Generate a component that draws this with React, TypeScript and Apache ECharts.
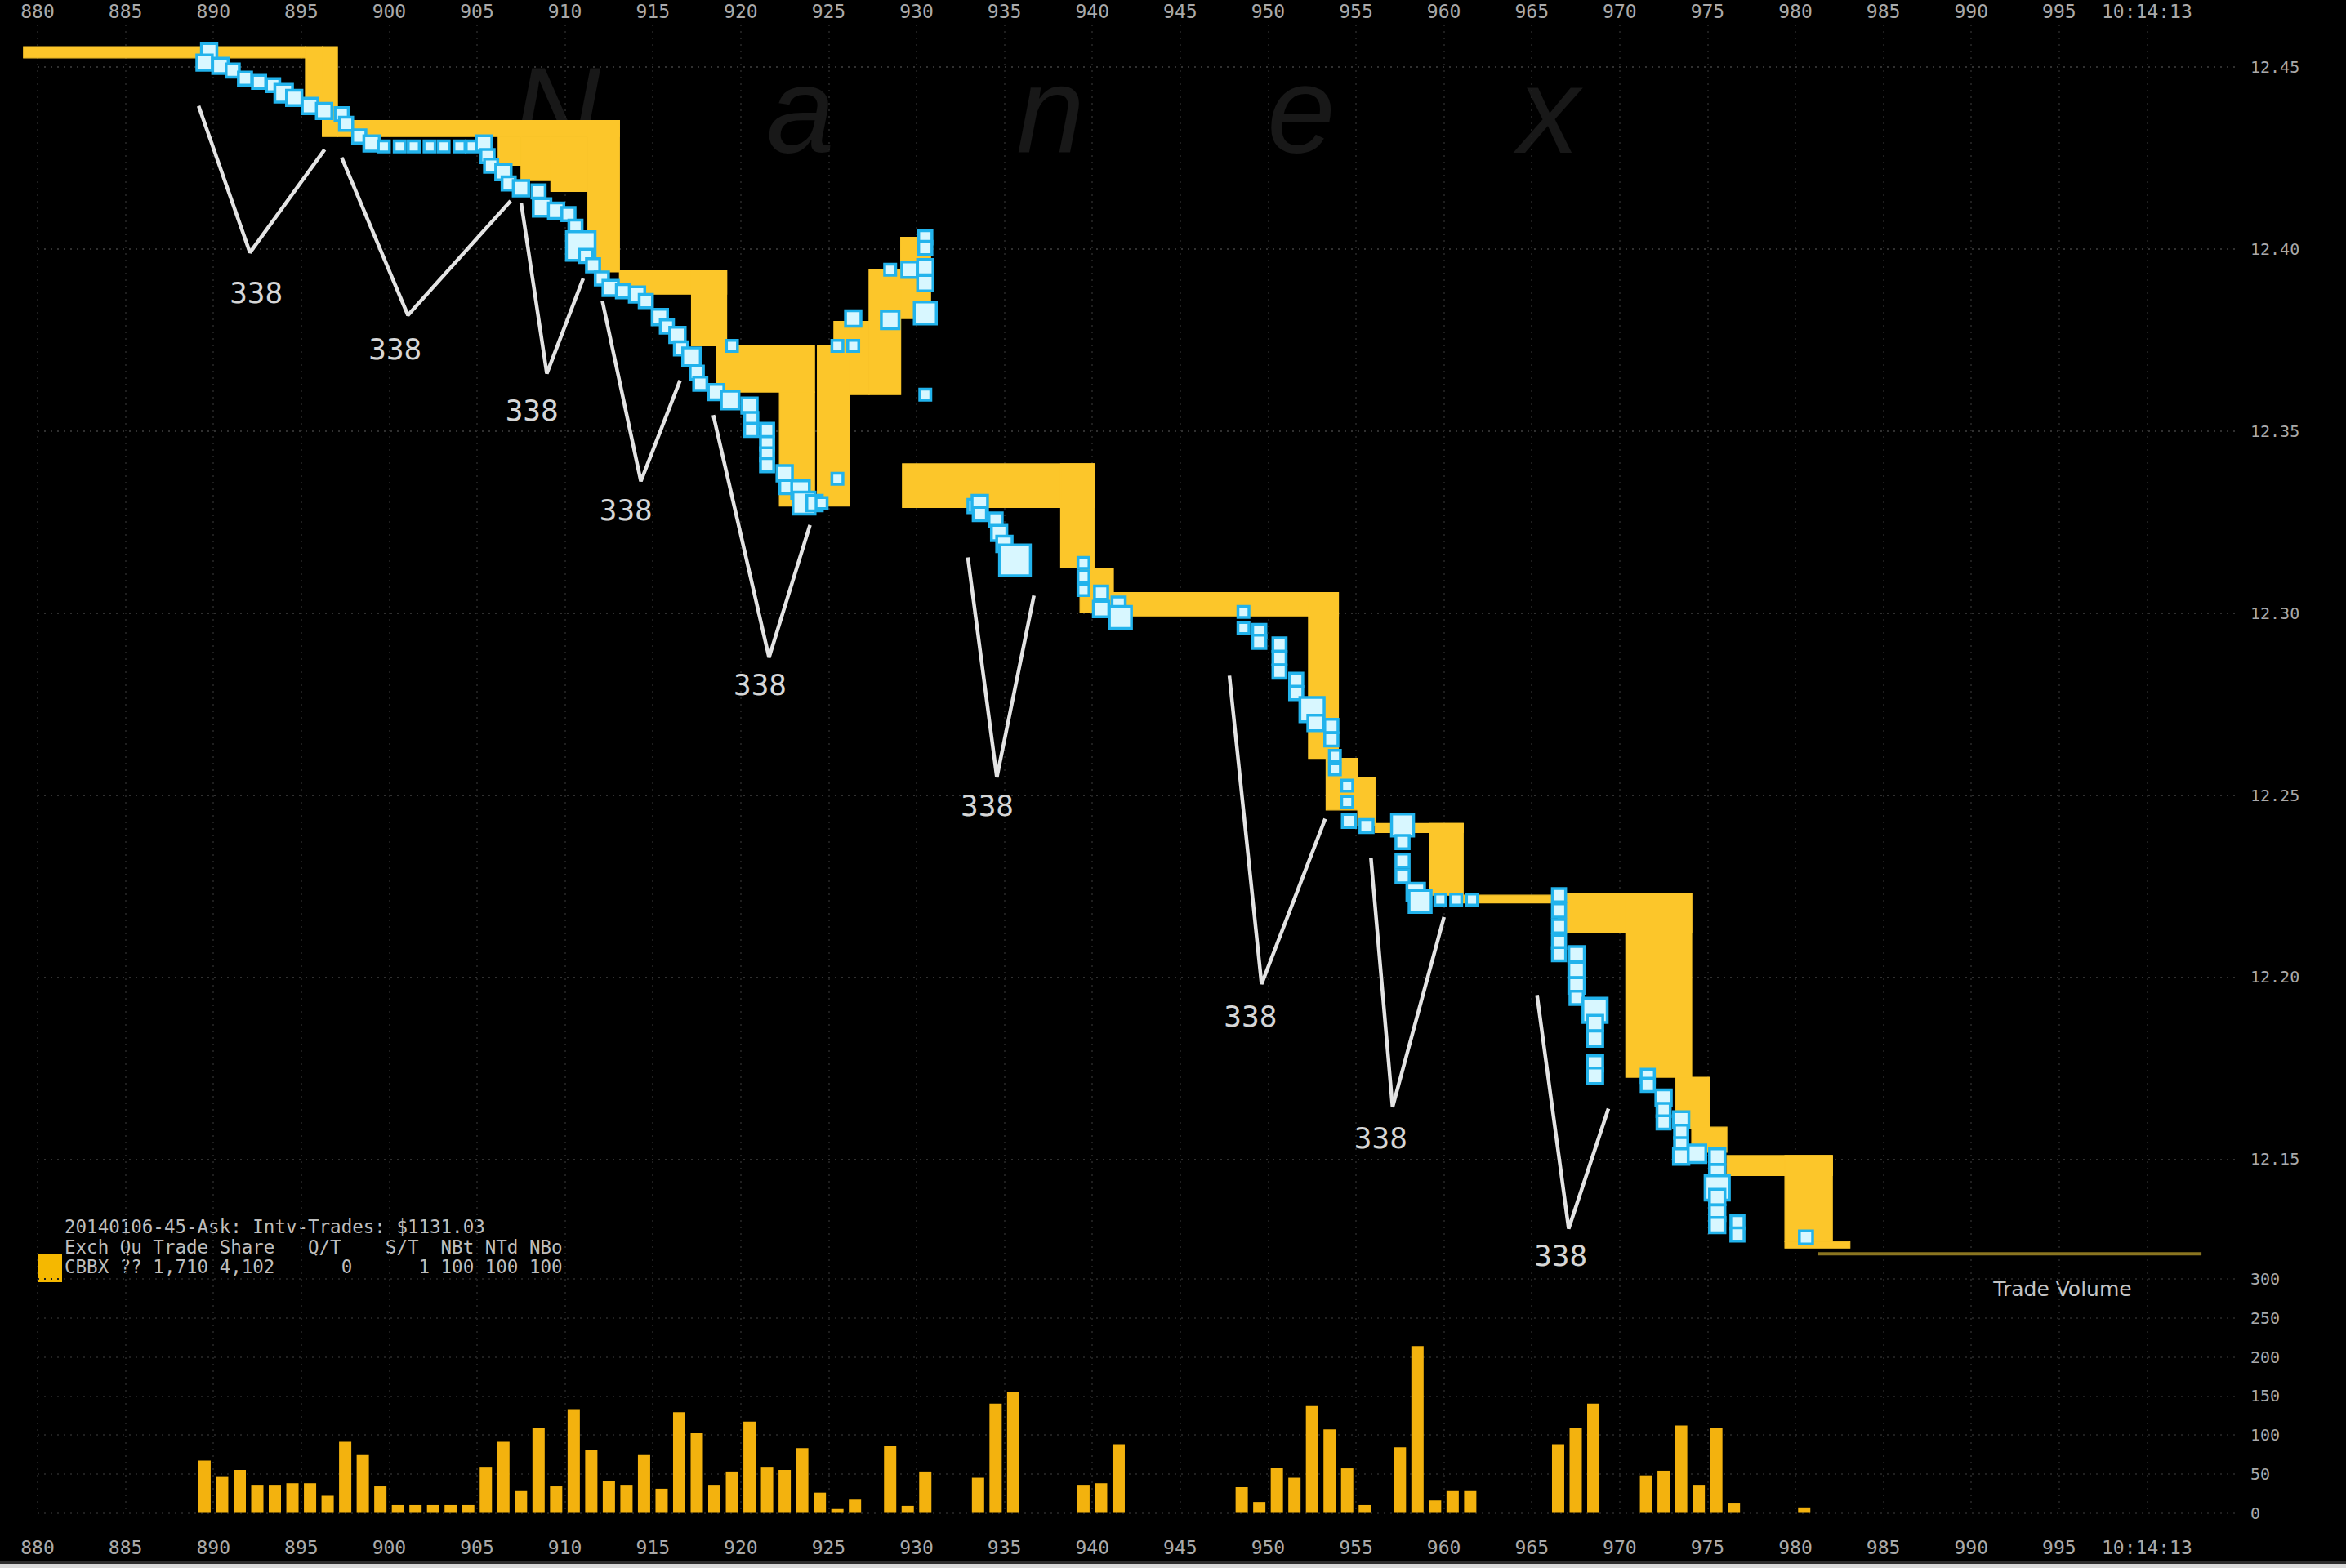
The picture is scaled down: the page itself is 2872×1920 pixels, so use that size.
import React, { useEffect, useRef } from 'react';
import * as echarts from 'echarts';

// ---- axis extents (time in seconds-of-minute units, price in $) ----
const TIME_MIN = 880;
const TIME_MAX = 1005;
const PRICE_MIN = 12.1;
const PRICE_MAX = 12.46166;
const VOL_MAX = 300;

// ---- spread band (yellow) : [tStart, tEnd, low, high] ----
const bandRects: number[][] = [
  [879.2, 895.24, 12.4525, 12.4556],
  [895.24, 896.2, 12.437, 12.4556],
  [896.2, 897.06, 12.4309, 12.4556],
  [897.06, 913.1, 12.4309, 12.4353],
  [906.2, 907.5, 12.423, 12.4309],
  [907.5, 909.2, 12.4188, 12.4309],
  [909.2, 911.28, 12.4158, 12.4309],
  [911.28, 913.1, 12.3937, 12.4353],
  [913.1, 919.2, 12.3876, 12.394],
  [917.2, 919.2, 12.3734, 12.394],
  [918.6, 924.2, 12.3607, 12.3734],
  [922.2, 924.2, 12.3294, 12.3607],
  [924.36, 926.2, 12.3294, 12.3734],
  [925.3, 926.2, 12.3734, 12.3801],
  [926.2, 927.3, 12.36, 12.3801],
  [927.3, 929.1, 12.36, 12.3943],
  [929.1, 930.8, 12.3809, 12.4032],
  [929.2, 940.1, 12.329, 12.341],
  [938.2, 940.1, 12.3126, 12.341],
  [939.3, 941.2, 12.3003, 12.3123],
  [941.2, 954.0, 12.2992, 12.3056],
  [952.3, 954.0, 12.2601, 12.3056],
  [953.3, 955.1, 12.2459, 12.2601],
  [955.1, 956.1, 12.2415, 12.2549],
  [956.1, 961.1, 12.2397, 12.2422],
  [959.2, 961.1, 12.2225, 12.2422],
  [961.1, 966.7, 12.2204, 12.2225],
  [966.5, 974.1, 12.2123, 12.223],
  [970.35, 974.1, 12.1725, 12.223],
  [973.2, 975.1, 12.1583, 12.1725],
  [974.1, 976.1, 12.1519, 12.1588],
  [976.1, 982.1, 12.1455, 12.151],
  [979.4, 982.1, 12.1274, 12.151],
  [979.4, 983.1, 12.1256, 12.1274],
];

// trailing bid line (olive)
const tailLine: number[][] = [
  [981.3, 12.124],
  [1003.1, 12.124],
];

// ---- trades (blue squares): [time, price, size] ----
const trades: number[][] = [
  [889.76, 12.4543, 14], [889.5, 12.4512, 14], [890.4, 12.4503, 14], [891.1, 12.449, 12],
  [891.8, 12.4468, 12], [892.6, 12.4459, 12], [893.4, 12.445, 12], [894.0, 12.4428, 16],
  [894.6, 12.4415, 14], [895.5, 12.4393, 14], [896.3, 12.4379, 14], [897.3, 12.437, 12],
  [897.55, 12.4344, 12],
  [898.3, 12.4309, 12], [899.0, 12.429, 14], [899.7, 12.4282, 10], [900.6, 12.4282, 10],
  [901.4, 12.4282, 10], [902.3, 12.4282, 10], [903.1, 12.4282, 10], [904.0, 12.4282, 10],
  [904.7, 12.4282, 10], [905.4, 12.429, 14],
  [905.6, 12.4255, 12], [905.8, 12.4229, 12], [906.5, 12.4211, 14], [906.8, 12.418, 12],
  [907.5, 12.4167, 14], [908.5, 12.4158, 12], [908.7, 12.4114, 16], [909.5, 12.4105, 14],
  [910.2, 12.4096, 12], [910.6, 12.4061, 12], [910.9, 12.4008, 26], [911.2, 12.3981, 12],
  [911.6, 12.3955, 12], [912.1, 12.3919, 12], [912.6, 12.3893, 14], [913.3, 12.3884, 12],
  [914.1, 12.3875, 14], [914.6, 12.3857, 12], [915.4, 12.3813, 14], [915.8, 12.3787, 12],
  [916.4, 12.3764, 14], [916.6, 12.3727, 12], [917.2, 12.3704, 16], [917.5, 12.366, 12],
  [917.7, 12.363, 12], [918.6, 12.3607, 14], [919.4, 12.3585, 16], [920.5, 12.357, 14],
  [920.6, 12.3533, 12], [920.6, 12.3503, 12], [921.5, 12.3503, 12], [921.5, 12.3466, 12],
  [921.5, 12.3436, 12], [921.5, 12.3406, 12], [922.5, 12.3384, 14], [922.6, 12.3346, 12],
  [923.4, 12.3339, 16], [923.6, 12.3302, 20], [924.2, 12.3302, 14], [924.6, 12.3302, 10],
  [919.5, 12.3734, 10], [925.5, 12.3734, 10], [926.4, 12.3734, 10], [926.4, 12.3809, 14],
  [925.5, 12.3369, 10], [928.5, 12.3943, 10], [928.5, 12.3805, 16], [929.6, 12.3943, 14],
  [930.5, 12.4032, 12], [930.5, 12.4003, 12], [930.5, 12.395, 14], [930.5, 12.3906, 14],
  [930.5, 12.3824, 20], [930.5, 12.36, 10], [933.3, 12.3294, 12],
  [933.6, 12.3302, 14], [933.6, 12.3272, 12], [934.5, 12.3257, 12], [934.7, 12.322, 14],
  [935.0, 12.319, 14], [935.6, 12.3145, 28], [939.5, 12.3138, 10], [939.5, 12.31, 10],
  [939.5, 12.3063, 10], [940.5, 12.3056, 12], [940.5, 12.3011, 14], [941.5, 12.3026, 12],
  [941.6, 12.2988, 20], [948.6, 12.3003, 10], [948.6, 12.2959, 10], [949.5, 12.2951, 12],
  [949.5, 12.2921, 12], [950.65, 12.2914, 12], [950.65, 12.2876, 12], [950.65, 12.2839, 12],
  [951.6, 12.2817, 12], [951.6, 12.278, 12], [952.5, 12.2735, 22], [952.7, 12.2698, 14],
  [953.6, 12.269, 12], [953.6, 12.2653, 12], [953.8, 12.2608, 10], [953.8, 12.2571, 10],
  [954.5, 12.2526, 10], [954.5, 12.2481, 10], [954.6, 12.2429, 12], [955.6, 12.2415, 12],
  [957.65, 12.2418, 20], [957.65, 12.2371, 12], [957.65, 12.232, 12], [957.65, 12.2277, 12],
  [958.4, 12.2234, 16], [958.65, 12.2208, 20], [959.8, 12.2213, 10], [960.7, 12.2213, 10],
  [961.6, 12.2213, 10], [966.55, 12.2225, 12], [966.55, 12.2183, 12], [966.55, 12.214, 12],
  [966.55, 12.2097, 12], [966.55, 12.2063, 12], [967.55, 12.2063, 14], [967.55, 12.202, 14],
  [967.55, 12.1977, 14], [967.55, 12.1943, 12], [968.6, 12.1909, 22], [968.6, 12.1874, 14],
  [968.6, 12.1831, 14], [968.6, 12.1763, 14], [968.6, 12.1729, 14], [971.6, 12.1729, 12],
  [971.6, 12.1704, 12], [972.5, 12.1669, 14], [972.5, 12.1635, 12], [972.5, 12.1601, 12],
  [973.5, 12.1609, 14], [973.5, 12.1575, 12], [973.5, 12.1541, 12], [973.5, 12.1507, 14],
  [974.4, 12.1515, 16], [975.55, 12.1507, 14], [975.55, 12.1464, 14], [975.55, 12.1421, 22],
  [975.55, 12.1396, 14], [975.55, 12.1353, 14], [975.55, 12.1319, 14], [976.7, 12.1327, 12],
  [976.7, 12.1293, 12], [980.6, 12.1285, 12],
];

// ---- hand-drawn "V" annotations and their labels ----
const vMarks: number[][][] = [
  [[889.16, 12.4393], [892.08, 12.399], [896.33, 12.4273]],
  [[897.3, 12.4251], [901.07, 12.3818], [906.91, 12.4132]],
  [[907.51, 12.4127], [908.97, 12.3658], [911.04, 12.3919]],
  [[912.13, 12.3857], [914.32, 12.3362], [916.55, 12.3639]],
  [[918.44, 12.3544], [921.61, 12.2878], [923.94, 12.3242]],
  [[932.92, 12.3153], [934.57, 12.2549], [936.68, 12.3048]],
  [[947.8, 12.2828], [949.63, 12.1981], [953.25, 12.2435]],
  [[955.85, 12.2328], [957.08, 12.1643], [960.01, 12.2165]],
  [[965.3, 12.1951], [967.1, 12.1309], [969.36, 12.1639]],
];
const vLabelPos: number[][] = [
  [892.44, 12.388], [900.34, 12.3725], [908.12, 12.3557], [913.47, 12.3283],
  [921.1, 12.2804], [934.02, 12.247], [949.0, 12.1892], [956.41, 12.1557], [966.65, 12.1236],
];
const vLabelText = '338';

// ---- trade volume ----
const volumeTimes: number[] = [
  889.5, 890.5, 891.5, 892.5, 893.5, 894.5, 895.5, 896.5, 897.5, 898.5, 899.5, 900.5, 901.5,
  902.5, 903.5, 904.5, 905.5, 906.5, 907.5, 908.5, 909.5, 910.5, 911.5, 912.5, 913.5, 914.5,
  915.5, 916.5, 917.5, 918.5, 919.5, 920.5, 921.5, 922.5, 923.5, 924.5, 925.5, 926.5,
  928.5, 929.5, 930.5,
  933.5, 934.5, 935.5,
  939.5, 940.5, 941.5,
  948.5, 949.5, 950.5, 951.5, 952.5, 953.5, 954.5, 955.5,
  957.5, 958.5, 959.5, 960.5, 961.5,
  966.5, 967.5, 968.5,
  971.5, 972.5, 973.5, 974.5, 975.5, 976.5,
  980.5,
];
const volumeValues: number[] = [
  67, 47, 55, 36, 36, 38, 38, 22, 91, 74, 34, 10, 10,
  10, 10, 10, 59, 91, 28, 109, 34, 133, 81, 41, 36, 74,
  31, 129, 102, 36, 53, 117, 59, 55, 83, 26, 5, 17,
  86, 9, 53,
  45, 140, 155,
  36, 38, 88,
  33, 14, 58, 45, 137, 107, 57, 10,
  84, 214, 16, 28, 28,
  88, 109, 140,
  48, 54, 112, 36, 109, 12,
  7,
];

// ---- texts ----
const legendLines: string[] = [
  '20140106-45-Ask: Intv-Trades: $1131.03',
  'Exch Qu Trade Share   Q/T    S/T  NBt NTd NBo',
  'CBBX ?? 1,710 4,102      0      1 100 100 100',
];
const watermarkLetters: string[] = ['N', 'a', 'n', 'e', 'x'];
const volumeTitle = 'Trade Volume';
const timeStampLabel = '10:14:13';

const YELLOW = '#fcc62a';
const AXIS_TEXT = '#a9a9a9';
const MONO = 'DejaVu Sans Mono';

function xLabel(v: number): string {
  const r = Math.round(v);
  if (Math.abs(v - r) > 1e-6 || r < 880 || r > 1000) return '';
  if (r === 1000) return timeStampLabel;
  return String(r);
}

function buildOption(): any {
  const gridLeft = 46;
  const gridRight = 136;
  const xAxisCommon = {
    type: 'value',
    min: TIME_MIN,
    max: TIME_MAX,
    interval: 5,
    axisLine: { show: false },
    axisTick: { show: false },
    splitLine: {
      show: true,
      showMinLine: true,
      showMaxLine: false,
      lineStyle: { color: '#1f1f1f', width: 2, type: [2, 6] },
    },
    axisLabel: {
      color: AXIS_TEXT,
      fontFamily: MONO,
      fontSize: 23,
      formatter: xLabel,
      showMinLabel: true,
      showMaxLabel: false,
    },
  };

  const series: any[] = [];

  series.push({
    type: 'custom',
    xAxisIndex: 0,
    yAxisIndex: 0,
    encode: { x: [0, 1], y: [2, 3] },
    data: bandRects,
    clip: false,
    z: 2,
    renderItem: (params: any, api: any) => {
      const a = api.coord([api.value(0), api.value(3)]);
      const b = api.coord([api.value(1), api.value(2)]);
      const h = Math.max(b[1] - a[1], 3);
      return {
        type: 'rect',
        shape: { x: a[0], y: a[1], width: b[0] - a[0], height: h },
        style: { fill: YELLOW, stroke: YELLOW, lineWidth: 1.2 },
      };
    },
  });

  series.push({
    type: 'line',
    xAxisIndex: 0,
    yAxisIndex: 0,
    data: tailLine,
    symbol: 'none',
    z: 2,
    lineStyle: { color: '#8a7520', width: 4 },
  });

  vMarks.forEach((pts) => {
    series.push({
      type: 'line',
      xAxisIndex: 0,
      yAxisIndex: 0,
      data: pts,
      symbol: 'none',
      z: 3,
      lineStyle: { color: '#e4e4e4', width: 4.5 },
    });
  });

  series.push({
    type: 'scatter',
    xAxisIndex: 0,
    yAxisIndex: 0,
    data: trades,
    symbol: 'rect',
    symbolSize: (val: number[]) => val[2] * 1.35,
    z: 4,
    itemStyle: { color: '#d8f7ff', borderColor: '#22b3ec', borderWidth: 3.5, opacity: 1 },
  });

  series.push({
    type: 'custom',
    xAxisIndex: 0,
    yAxisIndex: 0,
    data: vLabelPos,
    encode: { x: 0, y: 1 },
    z: 5,
    renderItem: (params: any, api: any) => {
      const p = api.coord([api.value(0), api.value(1)]);
      return {
        type: 'text',
        x: p[0],
        y: p[1],
        style: {
          text: vLabelText,
          fill: '#d6d6d6',
          fontSize: 36,
          fontFamily: MONO,
          align: 'center',
          verticalAlign: 'middle',
        },
      };
    },
  });

  series.push({
    type: 'bar',
    xAxisIndex: 1,
    yAxisIndex: 1,
    data: volumeTimes.map((t, i) => [t, volumeValues[i]]),
    barWidth: 15,
    z: 2,
    itemStyle: { color: '#f3b20e' },
  });

  const graphic: any[] = [];
  const wmX = [681, 980, 1286, 1593, 1896];
  watermarkLetters.forEach((ch, i) => {
    graphic.push({
      type: 'text',
      x: wmX[i],
      y: 135,
      z: -10,
      style: {
        text: ch,
        fill: '#181818',
        fontSize: 150,
        fontStyle: 'italic',
        fontFamily: 'Liberation Sans',
        align: 'center',
        verticalAlign: 'middle',
      },
    });
  });
  const legendY = [1502, 1527, 1551];
  legendLines.forEach((line, i) => {
    graphic.push({
      type: 'text',
      x: 79,
      y: legendY[i],
      style: {
        text: line,
        fill: '#bdbdbd',
        fontSize: 22.5,
        fontFamily: MONO,
        align: 'left',
        verticalAlign: 'middle',
      },
    });
  });
  graphic.push({
    type: 'rect',
    shape: { x: 46, y: 1536, width: 30, height: 34 },
    style: { fill: '#f5b800' },
  });
  graphic.push({
    type: 'text',
    x: 2525,
    y: 1578,
    style: {
      text: volumeTitle,
      fill: '#c4c4c4',
      fontSize: 25,
      fontFamily: 'DejaVu Sans',
      align: 'center',
      verticalAlign: 'middle',
    },
  });
  graphic.push({
    type: 'rect',
    shape: { x: 0, y: 1911, width: 2872, height: 4 },
    style: { fill: '#2c2c2c' },
  });
  graphic.push({
    type: 'rect',
    shape: { x: 0, y: 1915, width: 2872, height: 5 },
    style: { fill: '#d9d9d9' },
  });

  return {
    backgroundColor: '#000000',
    animation: false,
    grid: [
      { left: gridLeft, right: gridRight, top: 30, bottom: 277.7 },
      { left: gridLeft, right: gridRight, top: 1566, bottom: 67.5 },
    ],
    xAxis: [
      { ...xAxisCommon, gridIndex: 0, position: 'top', axisLabel: { ...xAxisCommon.axisLabel, margin: 5 } },
      { ...xAxisCommon, gridIndex: 1, position: 'bottom', axisLabel: { ...xAxisCommon.axisLabel, margin: 31 } },
    ],
    yAxis: [
      {
        type: 'value',
        gridIndex: 0,
        position: 'right',
        min: PRICE_MIN,
        max: PRICE_MAX,
        interval: 0.05,
        axisLine: { show: false },
        axisTick: { show: false },
        splitLine: {
          show: true,
          showMinLine: false,
          showMaxLine: false,
          lineStyle: { color: '#303030', width: 2, type: [2, 6] },
        },
        axisLabel: {
          color: AXIS_TEXT,
          fontFamily: MONO,
          fontSize: 20,
          margin: 19,
          showMinLabel: false,
          formatter: (v: number) => {
            const k = v * 20;
            if (Math.abs(k - Math.round(k)) > 1e-6 || v < 12.12) return '';
            return v.toFixed(2);
          },
        },
      },
      {
        type: 'value',
        gridIndex: 1,
        position: 'right',
        min: 0,
        max: VOL_MAX,
        interval: 50,
        axisLine: { show: false },
        axisTick: { show: false },
        splitLine: {
          show: true,
          showMaxLine: true,
          lineStyle: { color: '#202020', width: 2, type: [2, 6] },
        },
        axisLabel: {
          color: AXIS_TEXT,
          fontFamily: MONO,
          fontSize: 20,
          margin: 19,
          formatter: (v: number) => String(Math.round(v)),
        },
      },
    ],
    graphic,
    series,
  };
}

export default function App() {
  const ref = useRef<HTMLDivElement>(null);
  useEffect(() => {
    document.body.style.margin = '0';
    document.body.style.background = '#000';
    const chart = echarts.init(ref.current as HTMLDivElement, null, { renderer: 'svg' });
    chart.setOption(buildOption());
    return () => chart.dispose();
  }, []);
  return (
    <div
      ref={ref}
      style={{ position: 'fixed', left: 0, top: 0, width: 2872, height: 1920, background: '#000' }}
    />
  );
}
